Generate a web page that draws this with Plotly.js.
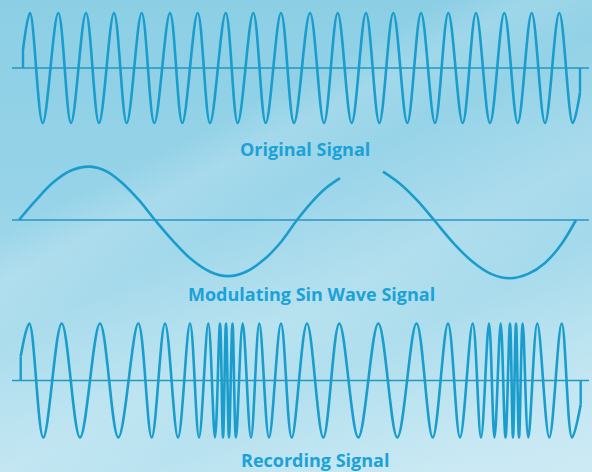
<!DOCTYPE html>
<html>
<head>
<meta charset="utf-8">
<script src="https://cdn.plot.ly/plotly-3.0.1.min.js"></script>
<style>
  html, body { margin: 0; padding: 0; }
  #wrap {
    width: 592px; height: 472px; position: relative; overflow: hidden;
    background:
      linear-gradient(152deg, rgba(255,255,255,0) 0%, rgba(255,255,255,0) 30%, rgba(255,255,255,0.16) 36%, rgba(255,255,255,0.04) 44%, rgba(255,255,255,0.2) 60%, rgba(255,255,255,0.08) 70%, rgba(255,255,255,0.28) 88%, rgba(255,255,255,0.32) 100%),
      linear-gradient(180deg, #8ccfe5 0%, #96d3e8 40%, #a7dbec 70%, #b4e0ef 100%);
  }
  #chart { width: 592px; height: 472px; }
</style>
</head>
<body>
<div id="wrap"><div id="chart"></div></div>
<script>
// ---- data (time positions of wave extrema) ----
const topPeaks   = [30, 58.3, 86, 114, 141.7, 170, 197.7, 225.7, 253.3, 281, 310, 337.7, 366, 393.3, 421, 448.3, 476, 504.3, 531.7, 559.3];
const topTroughs = [42.7, 71, 99, 126.7, 154.3, 182.3, 210, 237.7, 265.7, 294, 324, 351.7, 379.3, 407.3, 435, 462.7, 490, 517.7, 545, 572.7];
const topStart = [23, 0.33];
const topEnd   = [580, -0.45];

// modulating sine: points (one gap in the drawing, as in the picture)
const modX = [19, 36, 53, 71, 90, 107, 123, 139, 155, 173, 191, 210, 228, 246, 264, 281, 297, 312, 326, 340,
              null, 383, 400, 417, 434, 453, 472, 491, 510, 528, 545, 561, 576];
const modY = [0, 0.36, 0.68, 0.90, 0.97, 0.88, 0.66, 0.36, 0, -0.38, -0.71, -0.94, -1.02, -0.94, -0.72, -0.40, 0, 0.33, 0.58, 0.76,
              null, 0.88, 0.66, 0.36, 0, -0.41, -0.75, -0.98, -1.06, -0.98, -0.78, -0.45, 0];

const botPeaks   = [29.3, 61.7, 100, 138.3, 165, 190, 208.3, 220, 226, 232.5, 242.7, 259.3, 281, 307, 339.3, 378.3, 416.5, 448, 472.7, 489, 500.7, 510, 516, 522.7, 537.3, 561.7];
const botTroughs = [43.3, 80, 118.3, 151.7, 178, 199, 215, 223, 229, 236, 251, 269, 291.7, 323.3, 358.3, 397.3, 432.7, 460, 481, 494.5, 505.5, 513, 519, 528.3, 549.3, 572];
const botStart = [20.7, 0.42];
const botEnd   = [580.7, -0.42];

const baseRange = [12, 589];
const labels = ["Original Signal", "Modulating Sin Wave Signal", "Recording Signal"];

// ---- build sequences ----
function wave(start, peaks, troughs, end) {
  const x = [start[0]], y = [start[1]];
  for (let i = 0; i < peaks.length; i++) {
    x.push(peaks[i]); y.push(1);
    if (i < troughs.length) { x.push(troughs[i]); y.push(-1); }
  }
  x.push(end[0]); y.push(end[1]);
  return {x, y};
}
function stubs(start, end) {
  return {x: [start[0], start[0], null, end[0], end[0]], y: [0, start[1], null, end[1], 0]};
}

const waveColor = '#1a9dcc';
const baseColor = '#2796c0';
const traces = [];
const topWave = wave(topStart, topPeaks, topTroughs, topEnd);
const botWave = wave(botStart, botPeaks, botTroughs, botEnd);
const sets = [
  {w: topWave, s: stubs(topStart, topEnd), ya: 'y'},
  {w: {x: modX, y: modY}, s: null, ya: 'y2'},
  {w: botWave, s: stubs(botStart, botEnd), ya: 'y3'}
];
sets.forEach(st => {
  traces.push({x: baseRange, y: [0, 0], yaxis: st.ya, mode: 'lines', line: {color: baseColor, width: 1.6}, hoverinfo: 'skip'});
  traces.push({x: st.w.x, y: st.w.y, yaxis: st.ya, mode: 'lines', connectgaps: false,
               line: {color: waveColor, width: 2.6, shape: 'spline', smoothing: 1}, hoverinfo: 'skip'});
  if (st.s) traces.push({x: st.s.x, y: st.s.y, yaxis: st.ya, mode: 'lines', connectgaps: false,
               line: {color: waveColor, width: 2.4}, hoverinfo: 'skip'});
});

const hidden = {showgrid: false, zeroline: false, showticklabels: false, ticks: '', showline: false, fixedrange: true};
const layout = {
  width: 592, height: 472,
  margin: {l: 0, r: 0, t: 0, b: 0},
  paper_bgcolor: 'rgba(0,0,0,0)', plot_bgcolor: 'rgba(0,0,0,0)',
  showlegend: false,
  xaxis: Object.assign({range: [0, 592]}, hidden),
  yaxis:  Object.assign({range: [-1.1, 1.1], domain: [0.7278, 0.9841]}, hidden),
  yaxis2: Object.assign({range: [-1.1, 1.1], domain: [0.4057, 0.6621]}, hidden),
  yaxis3: Object.assign({range: [-1.1, 1.1], domain: [0.0610, 0.3267]}, hidden),
  annotations: [
    {text: '<b>' + labels[0] + '</b>', x: 305 / 592, y: 1 - 149 / 472},
    {text: '<b>' + labels[1] + '</b>', x: 311 / 592, y: 1 - 294 / 472},
    {text: '<b>' + labels[2] + '</b>', x: 315 / 592, y: 1 - 460 / 472}
  ].map(a => Object.assign(a, {xref: 'paper', yref: 'paper', showarrow: false, xanchor: 'center', yanchor: 'middle',
        font: {family: '"Open Sans", Lato, sans-serif', size: 18, color: '#1ba2d6'}}))
};
Plotly.newPlot('chart', traces, layout, {displayModeBar: false, staticPlot: true});
</script>
</body>
</html>
